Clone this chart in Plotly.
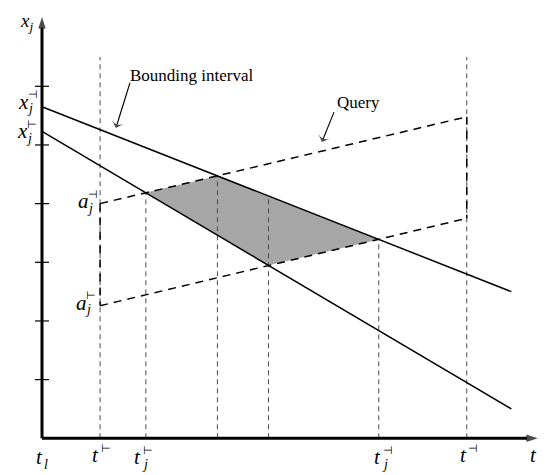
import plotly.graph_objects as go

# ---- data (diagram units: 1 unit = one y tick spacing) ----
upper_bound_t = [0.0, 8.0]
upper_bound_x = [5.65, 2.50]
lower_bound_t = [0.0, 8.0]
lower_bound_x = [5.23, 0.50]

query_upper_t = [0.99, 7.24]
query_upper_x = [4.00, 5.48]
query_lower_t = [0.99, 7.24]
query_lower_x = [2.26, 3.75]

region_t = [1.77, 2.99, 5.74, 3.86]
region_x = [4.19, 4.47, 3.39, 2.95]

guide_t = [0.99, 1.77, 2.99, 3.86, 5.74, 7.24]
guide_top = [6.50, 4.19, 4.47, 4.13, 3.39, 6.50]

ytick_vals = [1, 2, 3, 4, 5, 6]
t_axis_end = 8.45
x_axis_end = 7.18

# callout arrows: tail (t, x) -> tip (t, x)
bound_arrow_t = [1.50, 1.26]
bound_arrow_x = [6.06, 5.29]
query_arrow_t = [4.977, 4.77]
query_arrow_x = [5.56, 5.05]

# labels: base, subscript, superscript, t, x
lab_base = ["x", "x", "a", "a", "t", "t", "t", "t", "t", "t"]
lab_sub = ["j", "j", "j", "j", "l", "", "j", "j", "", ""]
lab_sup = ["⊣", "⊢", "⊣", "⊢", "", "⊢", "⊢", "⊣", "⊣", ""]
lab_t = [-0.32, -0.34, 0.70, 0.665, -0.05, 0.92, 1.63, 5.72, 7.18, 8.37]
lab_x = [5.74, 5.23, 4.04, 2.31, -0.32, -0.285, -0.32, -0.32, -0.285, -0.285]

axis_title_t = -0.27

SERIF = "Liberation Serif, Times New Roman, serif"

fig = go.Figure()

# shaded overlap region
fig.add_trace(go.Scatter(
    x=region_t + [region_t[0]], y=region_x + [region_x[0]],
    fill="toself", fillcolor="#a6a6a6", mode="none", hoverinfo="skip"))

# vertical guide lines
for gt, top in zip(guide_t, guide_top):
    fig.add_trace(go.Scatter(x=[gt, gt], y=[0, top], mode="lines",
                             line=dict(color="#4a4a4a", width=1, dash="5px,4px"),
                             hoverinfo="skip"))

# bounding interval lines
fig.add_trace(go.Scatter(x=upper_bound_t, y=upper_bound_x, mode="lines",
                         line=dict(color="black", width=1.5)))
fig.add_trace(go.Scatter(x=lower_bound_t, y=lower_bound_x, mode="lines",
                         line=dict(color="black", width=1.5)))

# query parallelogram (dashed)
qdash = dict(color="black", width=1.5, dash="8px,6px")
fig.add_trace(go.Scatter(x=query_upper_t, y=query_upper_x, mode="lines", line=qdash))
fig.add_trace(go.Scatter(x=query_lower_t, y=query_lower_x, mode="lines", line=qdash))
fig.add_trace(go.Scatter(x=[query_upper_t[0], query_lower_t[0]],
                         y=[query_upper_x[0], query_lower_x[0]], mode="lines", line=qdash))
fig.add_trace(go.Scatter(x=[query_upper_t[1], query_lower_t[1]],
                         y=[query_upper_x[1], query_lower_x[1]], mode="lines", line=qdash))

# y ticks
tx, ty = [], []
for v in ytick_vals:
    tx += [-0.12, 0.12, None]
    ty += [v, v, None]
fig.add_trace(go.Scatter(x=tx, y=ty, mode="lines", line=dict(color="black", width=1.2)))

# axes with arrow heads
axis_marker = dict(symbol=["circle", "arrow"], size=[0, 12], angleref="previous",
                   color="black", line=dict(width=0))
fig.add_trace(go.Scatter(x=[0, 0], y=[0, x_axis_end], mode="lines+markers",
                         line=dict(color="black", width=3), marker=axis_marker))
fig.add_trace(go.Scatter(x=[0, t_axis_end], y=[0, 0], mode="lines+markers",
                         line=dict(color="black", width=3), marker=axis_marker))

# callout arrows
call_marker = dict(symbol=["circle", "arrow-wide"], size=[0, 9], angleref="previous",
                   color="black", line=dict(width=0))
fig.add_trace(go.Scatter(x=bound_arrow_t, y=bound_arrow_x, mode="lines+markers",
                         line=dict(color="black", width=1.1), marker=call_marker))
fig.add_trace(go.Scatter(x=query_arrow_t, y=query_arrow_x, mode="lines+markers",
                         line=dict(color="black", width=1.1), marker=call_marker))

annotations = []
# vertical axis title x_j (anchored at the top edge so it is not clipped)
annotations.append(dict(x=axis_title_t, y=1, xref="x", yref="paper",
                        text="<i>x<sub>j</sub></i>", showarrow=False,
                        xanchor="center", yanchor="top",
                        font=dict(family=SERIF, size=19, color="black")))

annotations.append(dict(x=1.47, y=6.19, xref="x", yref="y", text="Bounding interval",
                        showarrow=False, xanchor="left", yanchor="middle",
                        font=dict(family=SERIF, size=17, color="black")))
annotations.append(dict(x=4.99, y=5.72, xref="x", yref="y", text="Query",
                        showarrow=False, xanchor="left", yanchor="middle",
                        font=dict(family=SERIF, size=17, color="black")))

# math labels
for b, s, p, lt, lx in zip(lab_base, lab_sub, lab_sup, lab_t, lab_x):
    annotations.append(dict(x=lt, y=lx, xref="x", yref="y", text="<i>%s</i>" % b,
                            showarrow=False, xanchor="center", yanchor="middle",
                            font=dict(family=SERIF, size=21, color="black")))
    if s:
        annotations.append(dict(x=lt, y=lx, xref="x", yref="y", text="<i>%s</i>" % s,
                                showarrow=False, xanchor="center", yanchor="middle",
                                xshift=7, yshift=-7,
                                font=dict(family=SERIF, size=14, color="black")))
    if p:
        annotations.append(dict(x=lt, y=lx, xref="x", yref="y", text=p,
                                showarrow=False, xanchor="center", yanchor="middle",
                                xshift=10, yshift=7,
                                font=dict(family="DejaVu Sans", size=11, color="black")))

# page body adds an 8px margin, so the figure is 8px smaller on each side
fig.update_layout(
    width=545, height=467,
    margin=dict(l=0, r=0, t=0, b=0),
    paper_bgcolor="white", plot_bgcolor="white",
    showlegend=False,
    annotations=annotations,
    xaxis=dict(range=[-0.5795, 8.7097], visible=False, fixedrange=True),
    yaxis=dict(range=[-0.6255, 7.3343], visible=False, fixedrange=True),
)

fig.write_html("out.html")
